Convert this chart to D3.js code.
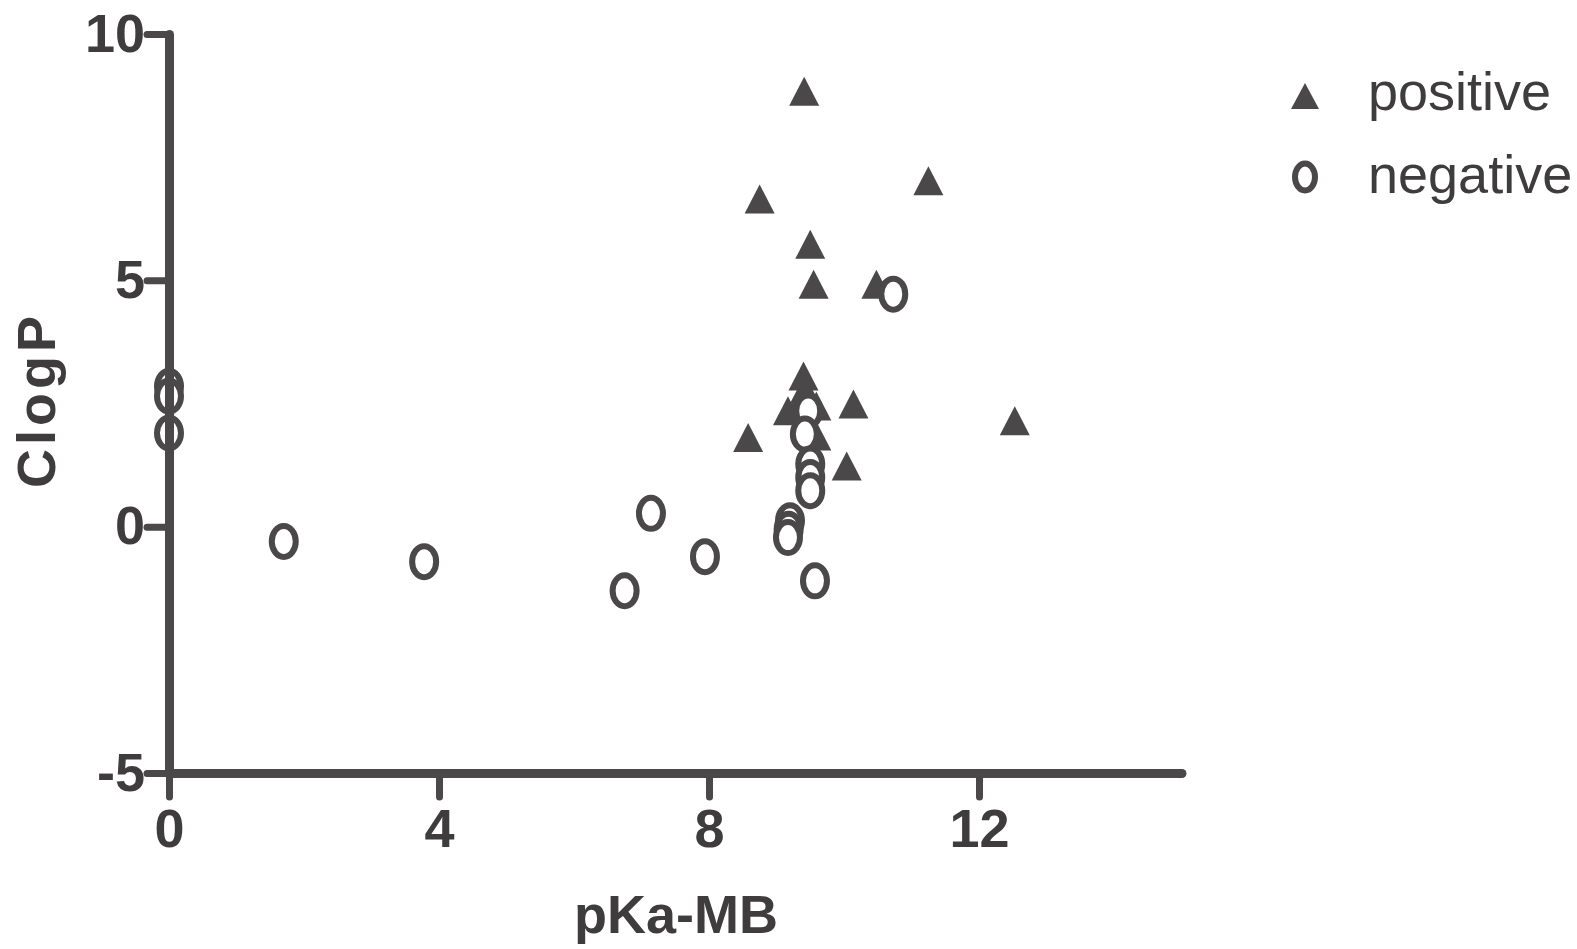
<!DOCTYPE html>
<html>
<head>
<meta charset="utf-8">
<script src="https://cdn.jsdelivr.net/npm/d3@7"></script>
<style>
  body { margin: 0; background: #fff; }
  .tick text { font-family: "Liberation Sans", Arial, sans-serif; font-weight: bold; }
</style>
</head>
<body>
<div id="chart"></div>
<script>
const width = 1577,
  height = 949;
const ink = "#4a4848";

// positive compounds (triangles)
const posX = [9.41, 8.75, 11.25, 9.5, 9.55, 10.48, 9.4, 9.42, 9.35, 9.17, 9.59, 9.59, 8.58, 10.14, 10.04, 12.53];
const posY = [8.81, 6.62, 6.99, 5.7, 4.89, 4.89, 3.03, 2.76, 2.49, 2.32, 2.42, 1.81, 1.78, 2.46, 1.2, 2.12];

// negative compounds (circles)
const negX = [0, 0, 0, 1.7, 3.78, 6.75, 7.14, 7.94, 9.2, 9.18, 9.17, 9.57, 9.47, 9.42, 9.5, 9.5, 9.5, 10.73];
const negY = [2.85, 2.65, 1.9, -0.3, -0.71, -1.3, 0.27, -0.61, 0.12, -0.05, -0.22, -1.1, 2.35, 1.88, 1.27, 1.0, 0.73, 4.72];

const xTicks = [0, 4, 8, 12];
const yTicks = [-5, 0, 5, 10];
const legendLabels = ["positive", "negative"];

const x = d3.scaleLinear().domain([0, 15]).range([169, 1181.5]);
const y = d3.scaleLinear().domain([-5, 10]).range([773, 34]);

const svg = d3
  .select("#chart")
  .append("svg")
  .attr("width", width)
  .attr("height", height);

const triangle = "M0,-16L15,13L-15,13Z";

// points
svg
  .selectAll(".pos")
  .data(posX)
  .enter()
  .append("path")
  .attr("class", "pos")
  .attr("d", triangle)
  .attr("transform", (d, i) => `translate(${x(d)},${y(posY[i])})`)
  .attr("fill", ink);

svg
  .selectAll(".neg")
  .data(negX)
  .enter()
  .append("ellipse")
  .attr("class", "neg")
  .attr("cx", (d) => x(d))
  .attr("cy", (d, i) => y(negY[i]))
  .attr("rx", 12)
  .attr("ry", 15.5)
  .attr("fill", "#fff")
  .attr("stroke", ink)
  .attr("stroke-width", 6);

// axes
const fmt = (d) => String(d);

const xAxis = svg
  .append("g")
  .attr("transform", `translate(0,${y(-5)})`)
  .call(d3.axisBottom(x).tickValues(xTicks).tickFormat(fmt).tickSize(24).tickSizeOuter(0).tickPadding(12));

const yAxis = svg
  .append("g")
  .attr("transform", `translate(${x(0)},0)`)
  .call(d3.axisLeft(y).tickValues(yTicks).tickFormat(fmt).tickSize(22).tickSizeOuter(0).tickPadding(2));

[xAxis, yAxis].forEach((g) => {
  g.select(".domain").attr("stroke", ink).attr("stroke-width", 9).attr("stroke-linecap", "round");
  g.selectAll(".tick line").attr("stroke", ink).attr("stroke-width", 7).attr("stroke-linecap", "round");
  g.selectAll(".tick text").attr("fill", "#3e3c3c").attr("font-size", 54);
});

// axis titles
svg
  .append("text")
  .attr("x", 676)
  .attr("y", 933)
  .attr("text-anchor", "middle")
  .attr("font-family", "Liberation Sans, Arial, sans-serif")
  .attr("font-weight", "bold")
  .attr("font-size", 54)
  .attr("fill", "#3e3c3c")
  .text("pKa-MB");

svg
  .append("text")
  .attr("transform", "translate(55,400) rotate(-90)")
  .attr("text-anchor", "middle")
  .attr("font-family", "Liberation Sans, Arial, sans-serif")
  .attr("font-weight", "bold")
  .attr("font-size", 54)
  .attr("letter-spacing", 4)
  .attr("fill", "#3e3c3c")
  .text("ClogP");

// legend
const legend = svg
  .selectAll(".legend")
  .data(legendLabels)
  .enter()
  .append("g")
  .attr("class", "legend")
  .attr("transform", (d, i) => `translate(1305,${97 + i * 80})`);

legend
  .filter((d, i) => i === 0)
  .append("path")
  .attr("d", "M0,-14L14,12L-14,12Z")
  .attr("fill", ink);

legend
  .filter((d, i) => i === 1)
  .append("ellipse")
  .attr("rx", 10)
  .attr("ry", 13.5)
  .attr("fill", "none")
  .attr("stroke", ink)
  .attr("stroke-width", 6);

legend
  .append("text")
  .attr("x", 63)
  .attr("y", (d, i) => (i === 0 ? 13 : 16))
  .attr("font-family", "Liberation Sans, Arial, sans-serif")
  .attr("font-size", 54)
  .attr("fill", "#3e3c3c")
  .text((d) => d);
</script>
</body>
</html>
